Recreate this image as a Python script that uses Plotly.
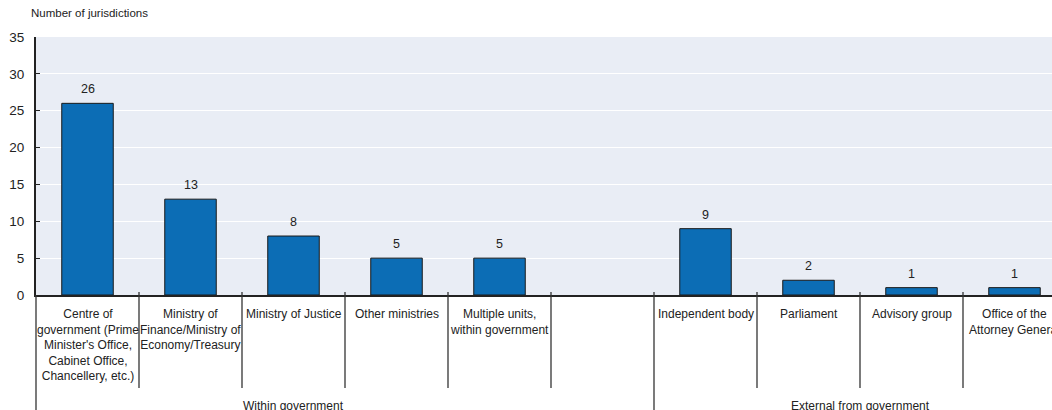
import plotly.graph_objects as go

# Bodies responsible for the regulatory oversight function
categories = [
    "Centre of<br>government (Prime<br>Minister's Office,<br>Cabinet Office,<br>Chancellery, etc.)",
    "Ministry of<br>Finance/Ministry of<br>Economy/Treasury",
    "Ministry of Justice",
    "Other ministries",
    "Multiple units,<br>within government",
    "",
    "Independent body",
    "Parliament",
    "Advisory group",
    "Office of the<br>Attorney General",
]
counts = [26, 13, 8, 5, 5, None, 9, 2, 1, 1]
groups = ["Within government", "External from government"]
group_spans = [(0, 4), (6, 9)]
y_ticks = [0, 5, 10, 15, 20, 25, 30, 35]

FONT = "Liberation Sans Narrow, Arial Narrow, Liberation Sans, Arial, sans-serif"
TEXT = "#222222"
BAR = "#0C6DB5"

W, H = 1052, 410
M_L, M_T, M_B = 36, 37, 115
plot_h = H - M_T - M_B
step_px = 103.0
plot_w = W - M_L
x_max = -0.5 + plot_w / step_px

xs = list(range(len(categories)))

fig = go.Figure()
fig.add_trace(go.Bar(
    x=xs, y=counts, width=0.5,
    marker=dict(color=BAR, line=dict(color="#1a1a1a", width=1)),
    hoverinfo="skip",
))

ann = []
# value labels above each bar
for x, v in zip(xs, counts):
    if v is None:
        continue
    ann.append(dict(x=x, y=v, xref="x", yref="y", text=str(v), showarrow=False,
                    yanchor="bottom", yshift=5, font=dict(size=12.5, color=TEXT, family=FONT)))

def py(px_from_top):
    return (H - M_B - px_from_top) / plot_h

# category labels
for x, c in zip(xs, categories):
    if not c:
        continue
    ann.append(dict(x=x, y=py(305), xref="x", yref="paper", text=c, showarrow=False,
                    yanchor="top", align="center",
                    font=dict(size=12, color=TEXT, family=FONT)))

# group labels
for g, (a, b) in zip(groups, group_spans):
    ann.append(dict(x=(a + b) / 2, y=py(397), xref="x", yref="paper", text=g,
                    showarrow=False, yanchor="top",
                    font=dict(size=12, color=TEXT, family=FONT)))

# axis title
ann.append(dict(x=0, y=py(13), xref="paper", yref="paper", text="Number of jurisdictions",
                showarrow=False, xanchor="left", yanchor="middle", xshift=-7,
                font=dict(size=11.5, color=TEXT, family=FONT)))

shapes = []
# dividers between categories
for i in range(1, len(categories) + 1):
    b = i - 0.5
    bottom = py(410) if b == 5.5 else py(388)
    shapes.append(dict(type="line", xref="x", yref="paper", x0=b, x1=b,
                       y0=py(292), y1=bottom, line=dict(color="#333333", width=1.3)))
# left axis continued below the plot
shapes.append(dict(type="line", xref="paper", yref="paper", x0=0, x1=0,
                   y0=0, y1=py(410), line=dict(color="#333333", width=1.3)))

fig.update_layout(
    width=W, height=H,
    margin=dict(l=M_L, r=0, t=M_T, b=M_B, pad=0),
    paper_bgcolor="white", plot_bgcolor="#E9EDF5",
    showlegend=False, bargap=0.5,
    annotations=ann, shapes=shapes,
    font=dict(family=FONT, color=TEXT, size=12),
)
fig.update_xaxes(range=[-0.5, x_max], showticklabels=False, showgrid=False,
                 zeroline=False, showline=True, linecolor="#222222", linewidth=2,
                 ticks="")
fig.update_yaxes(range=[0, 35], tickvals=y_ticks, showgrid=True, gridcolor="white",
                 gridwidth=1.3, zeroline=False, showline=True, linecolor="#222222",
                 linewidth=2, ticks="inside", ticklen=4, tickcolor="#222222",
                 ticklabelstandoff=7,
                 tickfont=dict(size=13.5, color=TEXT, family=FONT))

fig.write_html("out.html")
